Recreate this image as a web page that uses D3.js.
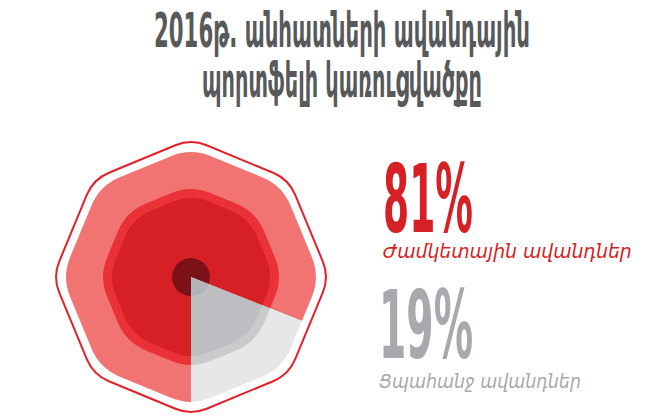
<!DOCTYPE html>
<html>
<head>
<meta charset="utf-8">
<script src="https://cdn.jsdelivr.net/npm/d3@7"></script>
<style>
  body { margin: 0; background: #fff; }
  svg { display: block; }
</style>
</head>
<body>
<script>
// data
var titleLines = ["2016թ. անհատների ավանդային", "պորտֆելի կառուցվածքը"];
var categories = ["Ժամկետային ավանդներ", "Ցպահանջ ավանդներ"];
var shares = [81, 19];
var shareColors = ["#d71f26", "#a7a9ac"];

// octagon layers (outer -> inner), fill per slice
var layerRadius = [125, 88, 79, 19];
var layerRound = [0.22, 0.3, 0.32, 0.45];
var layerFills = [
    ["#f17472", "#e6e7e8"],
    ["#ea3137", "#c9cacc"],
    ["#d71f26", "#bdbec1"],
    ["#7b1217", "#b3b4b7"]
];

var width = 652, height = 419;
var cx = 191, cy = 277;

var svg = d3.select("body").append("svg")
    .attr("width", width)
    .attr("height", height);

// rounded octagon, vertex at top
function octagon(r, round) {
    var n = 8, pts = [];
    var rv = r / (1 - 0.19 * round * 0.765);
    for (var i = 0; i < n; i++) {
        var a = i * 2 * Math.PI / n;
        pts.push([rv * Math.sin(a), -rv * Math.cos(a)]);
    }
    var p = d3.path();
    for (var i = 0; i < n; i++) {
        var v = pts[i], prev = pts[(i + n - 1) % n], next = pts[(i + 1) % n];
        var a1 = [v[0] + (prev[0] - v[0]) * round, v[1] + (prev[1] - v[1]) * round];
        var a2 = [v[0] + (next[0] - v[0]) * round, v[1] + (next[1] - v[1]) * round];
        if (i == 0) p.moveTo(a1[0], a1[1]); else p.lineTo(a1[0], a1[1]);
        p.quadraticCurveTo(v[0], v[1], a2[0], a2[1]);
    }
    p.closePath();
    return p.toString();
}

// squeeze text horizontally to a given width
function fit(sel, xs, ys, ws) {
    sel.each(function(d, i) {
        var w = this.getComputedTextLength();
        d3.select(this).attr("transform",
            "translate(" + xs[i] + "," + ys[i] + ") scale(" + (ws[i] / w) + ",1)");
    });
}

var g = svg.append("g").attr("transform", "translate(" + cx + "," + cy + ")");

var defs = svg.append("defs");
layerRadius.forEach(function(r, i) {
    defs.append("clipPath").attr("id", "clip" + i)
        .append("path").attr("d", octagon(r, layerRound[i]));
});

// outline
g.append("path")
    .attr("d", octagon(135, 0.16))
    .attr("fill", "none")
    .attr("stroke", "#e3212a")
    .attr("stroke-width", 2);

var pie = d3.pie().sort(null)
    .startAngle(Math.PI)
    .endAngle(3 * Math.PI);

var arcs = pie(shares);
var arc = d3.arc().innerRadius(0).outerRadius(160);

layerRadius.forEach(function(r, i) {
    g.append("g")
        .attr("clip-path", "url(#clip" + i + ")")
        .selectAll("path")
        .data(arcs)
        .enter()
        .append("path")
        .attr("d", arc)
        .attr("fill", function(d, j) { return layerFills[i][j]; });
});

// title
svg.append("g").selectAll("text")
    .data(titleLines)
    .enter()
    .append("text")
    .attr("text-anchor", "middle")
    .attr("font-family", "'DejaVu Sans Condensed', 'DejaVu Sans', sans-serif")
    .attr("font-weight", "bold")
    .attr("font-size", 48)
    .attr("fill", "#58595b")
    .text(function(d) { return d; })
    .call(fit, [342, 342], [47, 97], [376, 280]);

// percentages
var bigY = [232, 358], bigX = [383, 379], bigW = [90, 94];
var subY = [258, 388], subW = [249, 202];

svg.append("g").selectAll("text")
    .data(shares)
    .enter()
    .append("text")
    .attr("font-family", "'DejaVu Sans Condensed', 'DejaVu Sans', sans-serif")
    .attr("font-weight", "bold")
    .attr("font-size", 95)
    .attr("fill", function(d, i) { return shareColors[i]; })
    .text(function(d) { return d + "%"; })
    .call(fit, bigX, bigY, bigW);

svg.append("g").selectAll("text")
    .data(categories)
    .enter()
    .append("text")
    .attr("font-family", "'DejaVu Sans', sans-serif")
    .attr("font-style", "italic")
    .attr("font-size", 20)
    .attr("fill", function(d, i) { return shareColors[i]; })
    .text(function(d) { return d; })
    .call(fit, bigX, subY, subW);
</script>
</body>
</html>
